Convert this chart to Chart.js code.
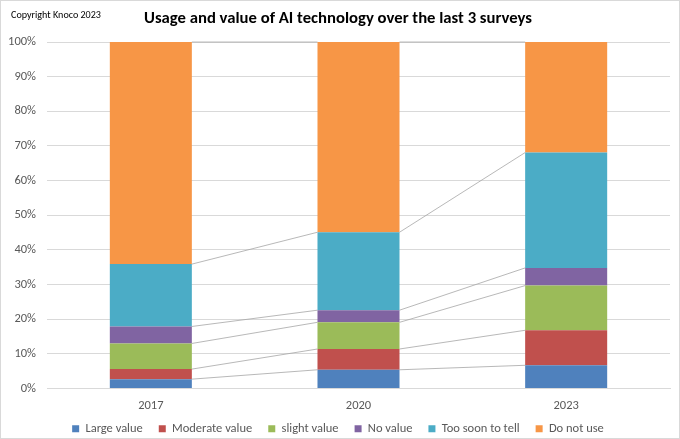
<!DOCTYPE html>
<html>
<head>
<meta charset="utf-8">
<script src="https://cdn.jsdelivr.net/npm/chart.js@4"></script>
<style>
html,body{margin:0;padding:0;background:#fff;}
canvas{display:block;}
</style>
</head>
<body>
<canvas id="c" width="680" height="439"></canvas>
<script>
const categories = ['2017', '2020', '2023'];
const seriesNames = ['Large value', 'Moderate value', 'slight value', 'No value', 'Too soon to tell', 'Do not use'];
const largeValue = [2.7, 5.4, 6.7];
const moderateValue = [2.9, 6.0, 10.1];
const slightValue = [7.4, 7.7, 12.9];
const noValue = [4.9, 3.5, 5.1];
const tooSoon = [18.0, 22.5, 33.3];
const doNotUse = [64.1, 54.9, 31.9];
const yTicks = [0, 10, 20, 30, 40, 50, 60, 70, 80, 90, 100];
const colors = ['#4F81BD', '#C0504D', '#9BBB59', '#8064A2', '#4BACC6', '#F79646'];
const seriesValues = [largeValue, moderateValue, slightValue, noValue, tooSoon, doNotUse];

const FONT = "Carlito, Lato, 'Liberation Sans', sans-serif";

const seriesLines = {
  id: 'seriesLines',
  afterLayout(chart) {
    // let x tick labels extend below the reduced axis box (avoid clipping)
    chart.scales.x.bottom += 24;
  },
  beforeDraw(chart) {
    const ctx = chart.ctx;
    ctx.save();
    ctx.strokeStyle = '#d9d9d9';
    ctx.lineWidth = 1;
    ctx.strokeRect(0.5, 0.5, chart.width - 1, chart.height - 1);
    ctx.restore();
  },
  beforeDatasetsDraw(chart) {
    const ctx = chart.ctx;
    ctx.save();
    ctx.strokeStyle = '#a6a6a6';
    ctx.lineWidth = 0.8;
    chart.data.datasets.forEach((ds, i) => {
      const meta = chart.getDatasetMeta(i);
      for (let j = 0; j < meta.data.length - 1; j++) {
        const a = meta.data[j], b = meta.data[j + 1];
        ctx.beginPath();
        ctx.moveTo(a.x + a.width / 2, a.y);
        ctx.lineTo(b.x - b.width / 2, b.y);
        ctx.stroke();
      }
    });
    ctx.restore();
  }
};

const copyright = {
  id: 'copyright',
  afterDraw(chart) {
    const ctx = chart.ctx;
    const text = 'Copyright Knoco 2023';
    ctx.save();
    ctx.font = '10px ' + FONT;
    const w = ctx.measureText(text).width;
    const size = Math.max(9, Math.min(12, 10 * 90 / w));
    ctx.font = size.toFixed(2) + 'px ' + FONT;
    ctx.fillStyle = '#000';
    ctx.textBaseline = 'middle';
    ctx.textAlign = 'left';
    ctx.fillText(text, 11, 15);
    ctx.restore();
  }
};

new Chart(document.getElementById('c'), {
  type: 'bar',
  data: {
    labels: categories,
    datasets: seriesNames.map((n, i) => ({
      label: n,
      data: seriesValues[i],
      backgroundColor: colors[i],
      borderWidth: 0,
      barPercentage: 0.395,
      categoryPercentage: 1.0
    }))
  },
  options: {
    responsive: false,
    animation: false,
    devicePixelRatio: 1,
    layout: { padding: { left: 6, right: 10, top: 0, bottom: -6 } },
    scales: {
      x: {
        stacked: true,
        afterFit(scale) { scale.height = 18; },
        grid: { display: false, drawTicks: false },
        border: { display: true, color: '#d9d9d9' },
        ticks: { color: '#595959', font: { family: FONT, size: 12.5 }, padding: 10 }
      },
      y: {
        stacked: true,
        min: 0, max: 100,
        afterBuildTicks(scale) { scale.ticks = yTicks.map(v => ({ value: v })); },
        afterFit(scale) { scale.width = 41; },
        grid: { color: '#d9d9d9', drawTicks: false },
        border: { display: false },
        ticks: { color: '#595959', font: { family: FONT, size: 12.5 }, padding: 11, callback: v => v + '%' }
      }
    },
    plugins: {
      title: {
        display: true,
        text: 'Usage and value of AI technology over the last 3 surveys',
        color: '#000',
        font: { family: FONT, size: 16.7, weight: 'bold' },
        padding: { top: 9, bottom: 13 }
      },
      legend: {
        position: 'bottom',
        labels: {
          color: '#595959',
          font: { family: FONT, size: 12.5 },
          boxWidth: 7, boxHeight: 7,
          padding: 16
        }
      },
      tooltip: { enabled: false }
    }
  },
  plugins: [seriesLines, copyright]
});
</script>
</body>
</html>
